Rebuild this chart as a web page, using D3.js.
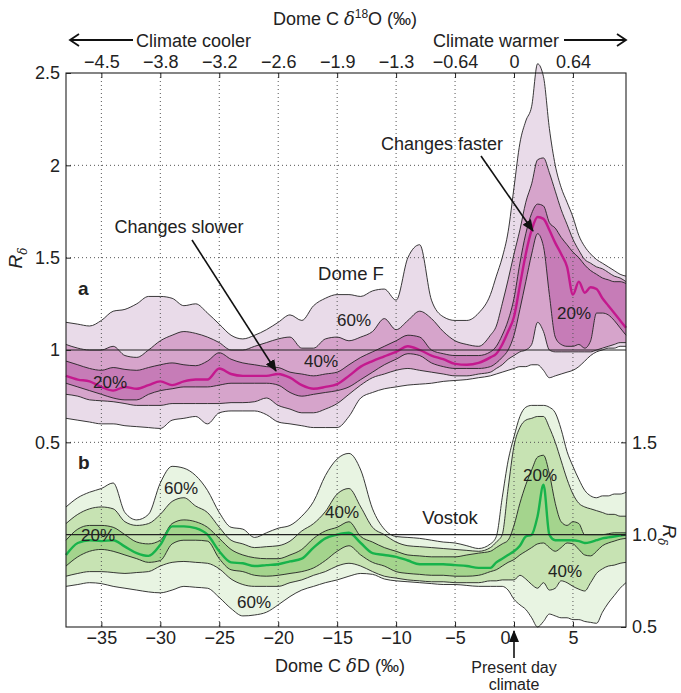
<!DOCTYPE html>
<html>
<head>
<meta charset="utf-8">
<script src="https://d3js.org/d3.v7.min.js"></script>
<style>
  body { margin: 0; background: #fff; }
  text { font-family: "Liberation Sans", Arial, Helvetica, sans-serif; fill: #222; }
  .grid line { stroke: #555; stroke-width: 1; stroke-dasharray: 1,3; }
  .edge { fill: none; stroke: #222; stroke-width: 0.9; }
</style>
</head>
<body>
<script>

var width = 681,
    height = 693;

// Dome C deltaD positions (per mil) shared by both panels
var xs = [-38,-37,-36,-35,-34,-33,-32,-31,-30,-29,-28,-27,-26,-25,-24,-23,-22,-21,-20,-19,
          -18,-17,-16,-15,-14,-13,-12,-11,-10,-9,-8,-7,-6,-5,-4,-3,-2,
          -1.5,-1,-0.5,0,0.5,1,1.5,2,2.5,3,3.5,4,4.5,5,5.5,6,6.5,7,7.5,8,8.5,9,9.5];

// panel a, Dome F : percentile envelopes and median of R_delta
var domeF_hi60 = [1.15,1.14,1.13,1.16,1.21,1.22,1.25,1.29,1.29,1.28,1.24,1.25,1.20,1.14,1.08,1.06,1.08,1.11,1.15,1.19,
                  1.16,1.24,1.28,1.30,1.30,1.29,1.32,1.33,1.27,1.50,1.57,1.27,1.18,1.16,1.16,1.20,1.30,
                  1.40,1.50,1.64,1.88,2.12,2.24,2.32,2.55,2.48,2.20,2.00,1.88,1.80,1.72,1.62,1.56,1.52,1.49,1.47,1.45,1.43,1.41,1.40];
var domeF_hi40 = [1.03,1.01,1.00,1.00,1.02,0.97,0.96,1.00,1.05,1.08,1.10,1.09,1.07,1.04,1.00,1.00,1.02,1.04,1.06,1.07,
                  1.01,1.01,1.06,1.07,1.05,1.07,1.10,1.17,1.11,1.16,1.21,1.17,1.10,1.05,1.03,1.02,1.08,
                  1.13,1.25,1.38,1.52,1.65,1.80,1.90,2.03,2.04,1.96,1.86,1.76,1.68,1.60,1.54,1.49,1.47,1.45,1.44,1.42,1.40,1.39,1.37];
var domeF_hi20 = [0.94,0.92,0.90,0.89,0.905,0.895,0.89,0.905,0.92,0.93,0.92,0.915,0.94,0.985,0.95,0.93,0.92,0.91,0.905,0.88,
                  0.87,0.86,0.87,0.88,0.92,0.96,0.99,1.02,1.05,1.08,1.07,1.00,0.98,0.97,0.97,0.97,0.99,
                  1.02,1.08,1.16,1.28,1.47,1.63,1.74,1.79,1.78,1.69,1.66,1.61,1.57,1.53,1.50,1.46,1.43,1.41,1.39,1.38,1.37,1.37,1.36];
var domeF_med  = [0.86,0.84,0.83,0.80,0.78,0.80,0.79,0.81,0.83,0.81,0.83,0.84,0.84,0.90,0.87,0.86,0.86,0.86,0.87,0.85,
                  0.81,0.79,0.80,0.815,0.86,0.91,0.94,0.965,0.99,1.02,1.00,0.97,0.95,0.925,0.92,0.93,0.96,
                  0.98,1.03,1.10,1.18,1.35,1.52,1.65,1.72,1.71,1.65,1.58,1.52,1.45,1.30,1.37,1.31,1.34,1.33,1.28,1.24,1.20,1.16,1.12];
var domeF_lo20 = [0.82,0.80,0.78,0.76,0.74,0.73,0.73,0.76,0.78,0.79,0.80,0.80,0.80,0.81,0.82,0.82,0.82,0.82,0.81,0.77,
                  0.75,0.76,0.77,0.78,0.80,0.84,0.88,0.92,0.95,0.98,0.97,0.93,0.91,0.90,0.90,0.90,0.91,
                  0.93,0.96,1.00,1.08,1.22,1.37,1.52,1.63,1.56,1.30,1.07,1.03,1.02,1.02,1.03,1.01,1.05,1.20,1.20,1.19,1.16,1.12,1.08];
var domeF_lo40 = [0.76,0.75,0.73,0.725,0.72,0.71,0.70,0.70,0.70,0.71,0.71,0.71,0.71,0.71,0.715,0.715,0.72,0.74,0.70,0.68,
                  0.66,0.66,0.68,0.71,0.76,0.81,0.85,0.87,0.89,0.90,0.89,0.88,0.87,0.86,0.86,0.87,0.88,
                  0.90,0.92,0.95,0.97,0.99,1.00,1.03,1.15,1.10,1.00,0.99,0.99,0.99,0.99,0.99,0.99,0.99,1.00,1.01,1.02,1.03,1.04,1.04];
var domeF_lo60 = [0.63,0.62,0.61,0.60,0.60,0.59,0.585,0.58,0.575,0.62,0.63,0.64,0.60,0.66,0.67,0.67,0.67,0.65,0.61,0.60,
                  0.59,0.58,0.58,0.58,0.64,0.74,0.77,0.79,0.80,0.81,0.815,0.82,0.83,0.835,0.84,0.85,0.86,
                  0.87,0.88,0.89,0.90,0.91,0.91,0.92,0.92,0.89,0.85,0.86,0.87,0.88,0.89,0.91,0.94,0.97,0.99,1.00,1.01,1.01,1.02,1.02];

// panel b, Vostok
var vostok_hi60 = [1.15,1.20,1.23,1.25,1.28,1.12,1.08,1.11,1.28,1.37,1.36,1.32,1.24,1.12,1.04,1.03,0.985,1.01,1.035,1.05,
                   1.10,1.18,1.32,1.41,1.44,1.35,1.14,1.03,0.99,0.985,0.98,0.97,0.96,0.955,0.94,0.925,0.95,
                   0.99,1.20,1.40,1.53,1.64,1.69,1.70,1.70,1.70,1.69,1.66,1.57,1.45,1.37,1.30,1.24,1.21,1.20,1.21,1.21,1.22,1.22,1.23];
var vostok_hi40 = [1.06,1.11,1.14,1.15,1.14,1.07,1.05,1.06,1.11,1.18,1.20,1.155,1.12,1.04,0.97,0.95,0.93,0.935,0.94,0.965,
                   1.02,1.06,1.125,1.22,1.25,1.15,1.04,1.00,0.96,0.94,0.935,0.93,0.925,0.92,0.915,0.91,0.93,
                   0.96,1.00,1.25,1.48,1.58,1.62,1.63,1.64,1.64,1.58,1.50,1.40,1.30,1.22,1.17,1.15,1.14,1.13,1.12,1.11,1.11,1.10,1.10];
var vostok_hi20 = [0.97,1.03,1.05,1.05,1.04,1.00,0.96,0.95,0.97,1.06,1.08,1.07,1.04,0.98,0.92,0.89,0.875,0.87,0.87,0.89,
                   0.92,0.98,1.02,1.04,1.07,0.99,0.96,0.93,0.91,0.89,0.885,0.88,0.88,0.88,0.89,0.90,0.91,
                   0.93,0.95,0.97,1.05,1.17,1.27,1.35,1.42,1.43,1.33,1.17,1.07,1.05,1.07,1.06,1.00,1.00,1.00,1.00,1.005,1.01,1.01,1.01];
var vostok_med  = [0.89,0.955,0.97,0.965,0.97,0.935,0.90,0.885,0.945,1.045,1.045,1.035,1.00,0.91,0.85,0.845,0.83,0.835,0.84,0.855,
                   0.87,0.93,0.98,1.00,1.01,0.955,0.90,0.89,0.88,0.86,0.84,0.84,0.84,0.835,0.83,0.82,0.82,
                   0.85,0.87,0.89,0.91,0.94,0.99,1.00,1.10,1.27,1.00,0.97,0.97,0.97,0.97,0.965,0.955,0.96,0.97,0.98,0.985,0.99,0.995,1.00];
var vostok_lo20 = [0.83,0.88,0.91,0.92,0.91,0.89,0.87,0.85,0.86,0.95,0.97,0.97,0.965,0.87,0.81,0.80,0.78,0.775,0.78,0.79,
                   0.80,0.82,0.86,0.91,0.94,0.89,0.85,0.83,0.80,0.79,0.785,0.78,0.78,0.775,0.775,0.78,0.80,
                   0.81,0.83,0.85,0.865,0.89,0.91,0.93,0.95,0.955,0.93,0.91,0.93,0.955,0.95,0.92,0.89,0.885,0.91,0.94,0.955,0.965,0.975,0.98];
var vostok_lo40 = [0.775,0.79,0.80,0.80,0.795,0.79,0.795,0.80,0.83,0.85,0.855,0.85,0.845,0.815,0.76,0.73,0.72,0.72,0.72,0.74,
                   0.755,0.78,0.80,0.83,0.845,0.83,0.80,0.775,0.765,0.755,0.75,0.745,0.745,0.74,0.74,0.74,0.75,
                   0.75,0.755,0.755,0.755,0.78,0.76,0.73,0.71,0.74,0.70,0.71,0.75,0.74,0.72,0.705,0.695,0.74,0.79,0.815,0.83,0.835,0.845,0.85];
var vostok_lo60 = [0.72,0.73,0.74,0.735,0.72,0.71,0.70,0.69,0.685,0.70,0.72,0.715,0.71,0.66,0.60,0.56,0.565,0.58,0.62,0.665,
                   0.70,0.72,0.74,0.755,0.775,0.79,0.785,0.76,0.75,0.745,0.74,0.735,0.73,0.73,0.725,0.72,0.72,
                   0.72,0.72,0.70,0.65,0.62,0.595,0.55,0.50,0.53,0.57,0.56,0.55,0.55,0.54,0.54,0.53,0.525,0.52,0.58,0.63,0.67,0.71,0.74];

// axis ticks
var dDTicks = [-35,-30,-25,-20,-15,-10,-5,0,5];
var d18OLabels = ["\u22124.5","\u22123.8","\u22123.2","\u22122.6","\u22121.9","\u22121.3","\u22120.64","0","0.64"];
var leftTicks = [0.5,1,1.5,2,2.5];
var rightTicks = [0.5,1.0,1.5];
var leftGrid = [0.5,1.5,2];

var svg = d3.select("body")
  .append("svg")
  .attr("width", width)
  .attr("height", height);

var defs = svg.append("defs");
defs.append("marker")
  .attr("id", "head")
  .attr("markerUnits", "userSpaceOnUse")
  .attr("markerWidth", 12).attr("markerHeight", 10)
  .attr("refX", 11).attr("refY", 5)
  .attr("orient", "auto")
  .append("path").attr("d", "M0,0 L12,5 L0,10 z").attr("fill", "#111");
defs.append("marker")
  .attr("id", "chev")
  .attr("markerUnits", "userSpaceOnUse")
  .attr("markerWidth", 12).attr("markerHeight", 14)
  .attr("refX", 10).attr("refY", 7)
  .attr("orient", "auto")
  .append("path").attr("d", "M1,1 L10,7 L1,13").attr("fill", "none")
  .attr("stroke", "#111").attr("stroke-width", 1.8);

var x = d3.scaleLinear().domain([-38, 9.5]).range([66, 626]);
var yA = d3.scaleLinear().domain([-0.5, 2.5]).range([627, 73]);
var yB = d3.scaleLinear().domain([0.5, 3.5]).range([627, 73]);

var fills = svg.append("g").attr("id", "fills");
var grid = svg.append("g").attr("class", "grid");
var lines = svg.append("g").attr("id", "lines");

function drawPanel(y, lo60, lo40, lo20, med, hi20, hi40, hi60, cols, medColor) {
  var bands = [[lo60, hi60, cols[0]], [lo40, hi40, cols[1]], [lo20, hi20, cols[2]]];
  bands.forEach(function(b) {
    var area = d3.area()
      .x(function(d, i) { return x(xs[i]); })
      .y0(function(d, i) { return y(b[0][i]); })
      .y1(function(d, i) { return y(b[1][i]); })
      .curve(d3.curveMonotoneX);
    fills.append("path").datum(xs).attr("d", area).attr("fill", b[2]);
  });
  var line = d3.line()
    .x(function(d, i) { return x(xs[i]); })
    .y(function(d) { return y(d); })
    .curve(d3.curveMonotoneX);
  [lo60, lo40, lo20, hi20, hi40, hi60].forEach(function(s) {
    lines.append("path").datum(s).attr("class", "edge").attr("d", line);
  });
  lines.append("path").datum(med)
    .attr("d", line)
    .attr("fill", "none")
    .attr("stroke", medColor)
    .attr("stroke-width", 2.4);
}

drawPanel(yA, domeF_lo60, domeF_lo40, domeF_lo20, domeF_med, domeF_hi20, domeF_hi40, domeF_hi60,
          ["#e9dbe9", "#d6a4cb", "#c67cb7"], "#c4198e");
drawPanel(yB, vostok_lo60, vostok_lo40, vostok_lo20, vostok_med, vostok_hi20, vostok_hi40, vostok_hi60,
          ["#e8f4e2", "#c7e3b3", "#a4d48d"], "#17b34b");

// dotted grid
grid.selectAll(".v").data(dDTicks).enter().append("line")
  .attr("x1", function(d) { return x(d); }).attr("x2", function(d) { return x(d); })
  .attr("y1", 73).attr("y2", 627);
grid.selectAll(".h").data(leftGrid).enter().append("line")
  .attr("x1", 66).attr("x2", 626)
  .attr("y1", function(d) { return yA(d); }).attr("y2", function(d) { return yA(d); });

// R = 1 reference lines
svg.append("line").attr("x1", 66).attr("x2", 626).attr("y1", yA(1)).attr("y2", yA(1))
  .attr("stroke", "#222").attr("stroke-width", 1.1);
svg.append("line").attr("x1", 66).attr("x2", 626).attr("y1", yB(1)).attr("y2", yB(1))
  .attr("stroke", "#222").attr("stroke-width", 1.1);

svg.append("rect").attr("x", 66).attr("y", 73).attr("width", 560).attr("height", 554)
  .attr("fill", "none").attr("stroke", "#222").attr("stroke-width", 1.1);

function styleAxis(g) {
  g.select(".domain").remove();
  g.selectAll("line").attr("stroke", "#222");
  g.selectAll("text").attr("font-size", 18).attr("fill", "#222")
    .attr("font-family", "'Liberation Sans', Arial, sans-serif");
  g.attr("font-family", null).attr("font-size", null);
}

svg.append("g").attr("transform", "translate(66,0)")
  .call(d3.axisLeft(yA).tickValues(leftTicks).tickSize(-5).tickPadding(6).tickFormat(d3.format("")))
  .call(styleAxis);
svg.append("g").attr("transform", "translate(626,0)")
  .call(d3.axisRight(yB).tickValues(rightTicks).tickSize(-5).tickPadding(6).tickFormat(d3.format(".1f")))
  .call(styleAxis);
svg.append("g").attr("transform", "translate(0,73)")
  .call(d3.axisTop(x).tickValues(dDTicks).tickSize(-5).tickPadding(5)
    .tickFormat(function(d, i) { return d18OLabels[i]; }))
  .call(styleAxis);
var bottomAxis = svg.append("g").attr("transform", "translate(0,627)")
  .call(d3.axisBottom(x).tickValues(dDTicks).tickSize(-5).tickPadding(4).tickFormat(d3.format("d")))
  .call(styleAxis);
// the zero label sits left of the present-day arrow
bottomAxis.selectAll(".tick").filter(function(d) { return d === 0; })
  .select("text").attr("dx", -9);

// axis titles
var t1 = svg.append("text").attr("x", 345).attr("y", 25).attr("text-anchor", "middle").attr("font-size", 18);
t1.append("tspan").text("Dome C ");
t1.append("tspan").attr("font-style", "italic").attr("font-family", "'DejaVu Serif', serif").text("\u03b4");
t1.append("tspan").attr("font-size", 12).attr("dy", -7).text("18");
t1.append("tspan").attr("dy", 7).text("O (\u2030)");

var t2 = svg.append("text").attr("x", 340).attr("y", 672).attr("text-anchor", "middle").attr("font-size", 18);
t2.append("tspan").text("Dome C ");
t2.append("tspan").attr("font-style", "italic").attr("font-family", "'DejaVu Serif', serif").text("\u03b4");
t2.append("tspan").text("D (\u2030)");

function rLabel(tx, ty, rot) {
  var t = svg.append("text").attr("transform", "translate(" + tx + "," + ty + ") rotate(" + rot + ")")
    .attr("text-anchor", "middle").attr("font-size", 19);
  t.append("tspan").attr("font-style", "italic").text("R");
  t.append("tspan").attr("font-style", "italic").attr("font-size", 12).attr("dy", 5)
    .attr("font-family", "'DejaVu Serif', serif").text("\u03b4");
}
rLabel(22, 258, -90);
rLabel(663, 535, 90);

// climate arrows on top
svg.append("text").attr("x", 136).attr("y", 47).attr("font-size", 18).text("Climate cooler");
svg.append("line").attr("x1", 133).attr("x2", 70).attr("y1", 40).attr("y2", 40)
  .attr("stroke", "#111").attr("stroke-width", 1.8).attr("marker-end", "url(#chev)");
svg.append("text").attr("x", 433).attr("y", 47).attr("font-size", 18).text("Climate warmer");
svg.append("line").attr("x1", 564).attr("x2", 626).attr("y1", 40).attr("y2", 40)
  .attr("stroke", "#111").attr("stroke-width", 1.8).attr("marker-end", "url(#chev)");

// panel letters
svg.append("text").attr("x", 78).attr("y", 295).attr("font-size", 19).attr("font-weight", "bold").text("a");
svg.append("text").attr("x", 78).attr("y", 469).attr("font-size", 19).attr("font-weight", "bold").text("b");

// annotations
var notes = [
  ["Dome F", 351, 280, 18.5],
  ["60%", 354, 326, 17], ["40%", 321, 367, 17], ["20%", 110, 388, 17], ["20%", 574, 319, 17],
  ["60%", 181, 494, 17], ["20%", 98, 541, 17], ["60%", 254, 608, 17], ["40%", 342, 518, 17],
  ["Vostok", 450, 524, 18.5], ["20%", 540, 481, 17], ["40%", 565, 577, 17],
  ["Changes slower", 179, 233, 18], ["Changes faster", 442, 150, 18]
];
svg.selectAll(".note").data(notes).enter().append("text")
  .attr("class", "note")
  .attr("x", function(d) { return d[1]; })
  .attr("y", function(d) { return d[2]; })
  .attr("font-size", function(d) { return d[3]; })
  .attr("text-anchor", "middle")
  .text(function(d) { return d[0]; });

svg.append("line").attr("x1", 192).attr("y1", 240).attr("x2", 276).attr("y2", 371)
  .attr("stroke", "#111").attr("stroke-width", 1.6).attr("marker-end", "url(#head)");
svg.append("line").attr("x1", 481).attr("y1", 156).attr("x2", 533).attr("y2", 231)
  .attr("stroke", "#111").attr("stroke-width", 1.6).attr("marker-end", "url(#head)");

// present day marker
svg.append("line").attr("x1", x(0)).attr("x2", x(0)).attr("y1", 658).attr("y2", 631)
  .attr("stroke", "#111").attr("stroke-width", 1.6).attr("marker-end", "url(#head)");
svg.append("text").attr("x", x(0)).attr("y", 673).attr("text-anchor", "middle").attr("font-size", 16).text("Present day");
svg.append("text").attr("x", x(0)).attr("y", 690).attr("text-anchor", "middle").attr("font-size", 16).text("climate");

</script>
</body>
</html>
